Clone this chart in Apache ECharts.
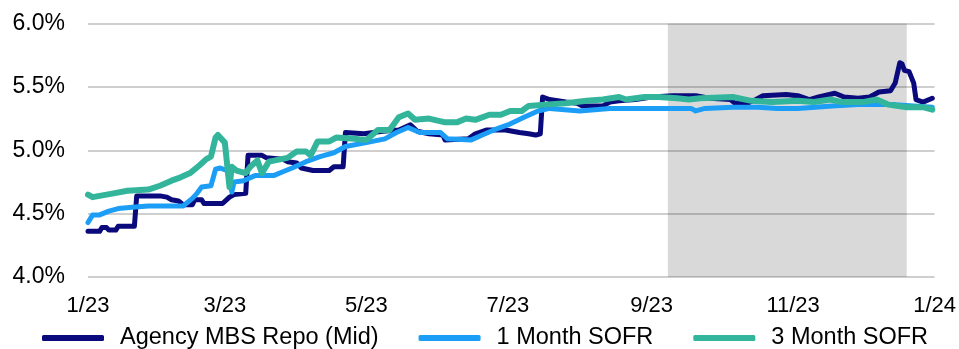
<html>

<head>
    <meta charset="utf-8">
    <title>Repo vs SOFR</title>
    <script src="https://cdn.jsdelivr.net/npm/echarts@6/dist/echarts.min.js"></script>
</head>

<body style="margin:0;background:#fff;">
    <div id="main" style="width: 959px;height:349px;"></div>
    <script type="text/javascript">

        // series names (legend order)
        var seriesNames = ['Agency MBS Repo (Mid)', '1 Month SOFR', '3 Month SOFR'];

        // y axis ticks (%)
        var yTicks = [4.0, 4.5, 5.0, 5.5, 6.0];

        // shaded period
        var shadeRange = ['2023-09-08', '2023-12-20'];

        // Agency MBS Repo (Mid), %
        var repoData = [
            ['2023-01-01', 4.36], ['2023-01-06', 4.36], ['2023-01-07', 4.39], ['2023-01-09', 4.39],
            ['2023-01-10', 4.37], ['2023-01-13', 4.37], ['2023-01-14', 4.40], ['2023-01-21', 4.40],
            ['2023-01-22', 4.64], ['2023-02-01', 4.64], ['2023-02-04', 4.63], ['2023-02-06', 4.61],
            ['2023-02-09', 4.60], ['2023-02-11', 4.57], ['2023-02-15', 4.57], ['2023-02-16', 4.61],
            ['2023-02-19', 4.61], ['2023-02-20', 4.58], ['2023-02-28', 4.58], ['2023-03-03', 4.63],
            ['2023-03-05', 4.65], ['2023-03-10', 4.66], ['2023-03-11', 4.96], ['2023-03-17', 4.96],
            ['2023-03-19', 4.94], ['2023-03-26', 4.93], ['2023-03-28', 4.91], ['2023-04-01', 4.90],
            ['2023-04-03', 4.86], ['2023-04-08', 4.84], ['2023-04-15', 4.84], ['2023-04-17', 4.87],
            ['2023-04-21', 4.87], ['2023-04-22', 5.14], ['2023-04-30', 5.13], ['2023-05-08', 5.15],
            ['2023-05-15', 5.16], ['2023-05-20', 5.20], ['2023-05-23', 5.15], ['2023-05-28', 5.13],
            ['2023-06-03', 5.12], ['2023-06-04', 5.08], ['2023-06-14', 5.09], ['2023-06-17', 5.13],
            ['2023-06-22', 5.16], ['2023-06-30', 5.16], ['2023-07-06', 5.14], ['2023-07-10', 5.13],
            ['2023-07-13', 5.12], ['2023-07-15', 5.13], ['2023-07-16', 5.42], ['2023-07-19', 5.40],
            ['2023-07-26', 5.38], ['2023-07-31', 5.37], ['2023-08-02', 5.35], ['2023-08-11', 5.35],
            ['2023-08-14', 5.38], ['2023-08-18', 5.39], ['2023-08-25', 5.40], ['2023-09-01', 5.42],
            ['2023-09-10', 5.43], ['2023-09-20', 5.43], ['2023-09-26', 5.41], ['2023-10-05', 5.40],
            ['2023-10-07', 5.37], ['2023-10-12', 5.37], ['2023-10-16', 5.40], ['2023-10-19', 5.43],
            ['2023-10-29', 5.44], ['2023-11-03', 5.43], ['2023-11-08', 5.40], ['2023-11-12', 5.42],
            ['2023-11-19', 5.45], ['2023-11-23', 5.42], ['2023-11-29', 5.41], ['2023-12-04', 5.42],
            ['2023-12-08', 5.46], ['2023-12-13', 5.47], ['2023-12-15', 5.53], ['2023-12-17', 5.69],
            ['2023-12-18', 5.68], ['2023-12-19', 5.63], ['2023-12-21', 5.62], ['2023-12-23', 5.53],
            ['2023-12-24', 5.40], ['2023-12-27', 5.38], ['2023-12-31', 5.41]
        ];

        // 1 Month SOFR, %
        var sofr1mData = [
            ['2023-01-01', 4.43], ['2023-01-03', 4.49], ['2023-01-06', 4.49], ['2023-01-10', 4.52],
            ['2023-01-14', 4.54], ['2023-01-20', 4.55], ['2023-01-27', 4.56], ['2023-02-11', 4.56],
            ['2023-02-15', 4.62], ['2023-02-17', 4.66], ['2023-02-19', 4.71], ['2023-02-23', 4.72],
            ['2023-02-25', 4.85], ['2023-02-27', 4.86], ['2023-03-02', 4.84], ['2023-03-04', 4.67],
            ['2023-03-05', 4.75], ['2023-03-09', 4.76], ['2023-03-14', 4.80], ['2023-03-22', 4.80],
            ['2023-03-26', 4.83], ['2023-03-30', 4.86], ['2023-04-05', 4.91], ['2023-04-11', 4.95],
            ['2023-04-17', 4.98], ['2023-04-22', 5.03], ['2023-05-01', 5.06], ['2023-05-09', 5.09],
            ['2023-05-14', 5.14], ['2023-05-19', 5.18], ['2023-05-24', 5.14], ['2023-06-02', 5.14],
            ['2023-06-05', 5.09], ['2023-06-15', 5.08], ['2023-06-20', 5.12], ['2023-06-25', 5.16],
            ['2023-07-01', 5.20], ['2023-07-08', 5.26], ['2023-07-14', 5.31], ['2023-07-19', 5.33],
            ['2023-08-01', 5.31], ['2023-08-14', 5.33], ['2023-09-18', 5.33], ['2023-09-20', 5.31],
            ['2023-09-24', 5.33], ['2023-10-06', 5.34], ['2023-10-17', 5.34], ['2023-10-25', 5.33],
            ['2023-11-03', 5.33], ['2023-11-18', 5.35], ['2023-11-29', 5.36], ['2023-12-15', 5.36],
            ['2023-12-31', 5.34]
        ];

        // 3 Month SOFR, %
        var sofr3mData = [
            ['2023-01-01', 4.65], ['2023-01-03', 4.63], ['2023-01-06', 4.64], ['2023-01-12', 4.66],
            ['2023-01-18', 4.68], ['2023-01-27', 4.69], ['2023-02-01', 4.72], ['2023-02-06', 4.76],
            ['2023-02-09', 4.78], ['2023-02-14', 4.82], ['2023-02-18', 4.88], ['2023-02-21', 4.93],
            ['2023-02-23', 4.95], ['2023-02-25', 5.10], ['2023-02-26', 5.12], ['2023-03-01', 5.06],
            ['2023-03-03', 4.71], ['2023-03-04', 4.87], ['2023-03-06', 4.84], ['2023-03-10', 4.82],
            ['2023-03-12', 4.87], ['2023-03-15', 4.92], ['2023-03-17', 4.82], ['2023-03-20', 4.91],
            ['2023-03-28', 4.94], ['2023-04-01', 4.99], ['2023-04-05', 4.99], ['2023-04-07', 4.96],
            ['2023-04-10', 5.07], ['2023-04-15', 5.07], ['2023-04-18', 5.10], ['2023-04-26', 5.09],
            ['2023-05-01', 5.08], ['2023-05-06', 5.16], ['2023-05-11', 5.16], ['2023-05-15', 5.26],
            ['2023-05-19', 5.29], ['2023-05-22', 5.24], ['2023-05-28', 5.25], ['2023-06-04', 5.22],
            ['2023-06-09', 5.22], ['2023-06-13', 5.25], ['2023-06-17', 5.24], ['2023-06-23', 5.28],
            ['2023-06-28', 5.28], ['2023-07-02', 5.31], ['2023-07-07', 5.31], ['2023-07-10', 5.35],
            ['2023-07-17', 5.36], ['2023-07-26', 5.37], ['2023-08-04', 5.39], ['2023-08-11', 5.40],
            ['2023-08-18', 5.42], ['2023-08-21', 5.40], ['2023-08-29', 5.42], ['2023-09-04', 5.42],
            ['2023-09-12', 5.41], ['2023-09-17', 5.40], ['2023-09-22', 5.41], ['2023-10-06', 5.42],
            ['2023-10-14', 5.39], ['2023-10-23', 5.38], ['2023-11-03', 5.39], ['2023-11-10', 5.38],
            ['2023-11-17', 5.40], ['2023-11-22', 5.38], ['2023-12-01', 5.38], ['2023-12-07', 5.40],
            ['2023-12-12', 5.36], ['2023-12-20', 5.34], ['2023-12-27', 5.34], ['2023-12-31', 5.32]
        ];

        var colors = ['#0a0a7c', '#1c9ef6', '#33b59b'];
        var widths = [5, 5, 6];

        var myChart = echarts.init(document.getElementById('main'));

        var datasets = [repoData, sofr1mData, sofr3mData];
        var series = seriesNames.map(function (name, i) {
            var s = {
                name: name,
                type: 'line',
                data: datasets[i],
                symbol: 'none',
                color: colors[i],
                lineStyle: { width: widths[i], color: colors[i], cap: 'round', join: 'round' },
                animation: false
            };
            if (i === 0) {
                s.markArea = {
                    silent: true,
                    itemStyle: { color: 'rgba(0,0,0,0.15)' },
                    data: [[{ xAxis: shadeRange[0] }, { xAxis: shadeRange[1] }]]
                };
            }
            return s;
        });

        var option = {
            animation: false,
            grid: { left: 88, right: 24, top: 23.5, bottom: 72 },
            legend: {
                left: 42,
                top: 326,
                padding: 0,
                itemWidth: 62,
                itemHeight: 6,
                itemGap: 40,
                icon: 'roundRect',
                textStyle: { fontFamily: 'Liberation Sans', fontSize: 23.5, color: '#000', padding: [0, 0, 0, 11] },
                data: seriesNames
            },
            xAxis: {
                type: 'time',
                min: '2023-01-01',
                max: '2024-01-01',
                splitNumber: 12,
                axisLine: { show: false },
                axisTick: { show: false },
                splitLine: { show: false },
                axisLabel: {
                    margin: 18,
                    fontFamily: 'Liberation Sans',
                    fontSize: 22,
                    color: '#000',
                    hideOverlap: false,
                    showMinLabel: true,
                    showMaxLabel: true,
                    formatter: function (v) {
                        var d = new Date(v);
                        var m = d.getMonth();
                        if (d.getDate() !== 1 || m % 2 !== 0) return '';
                        return (m + 1) + '/' + String(d.getFullYear()).slice(2);
                    }
                }
            },
            yAxis: {
                type: 'value',
                min: yTicks[0],
                max: yTicks[yTicks.length - 1],
                interval: 0.5,
                axisLine: { show: false },
                axisTick: { show: false },
                splitLine: { lineStyle: { color: '#bfbfbf', width: 1.5 } },
                axisLabel: {
                    margin: 23,
                    fontFamily: 'Liberation Sans',
                    fontSize: 23,
                    color: '#000',
                    formatter: function (v) { return v.toFixed(1) + '%'; }
                }
            },
            series: series
        };

        myChart.setOption(option);
    </script>
</body>

</html>
